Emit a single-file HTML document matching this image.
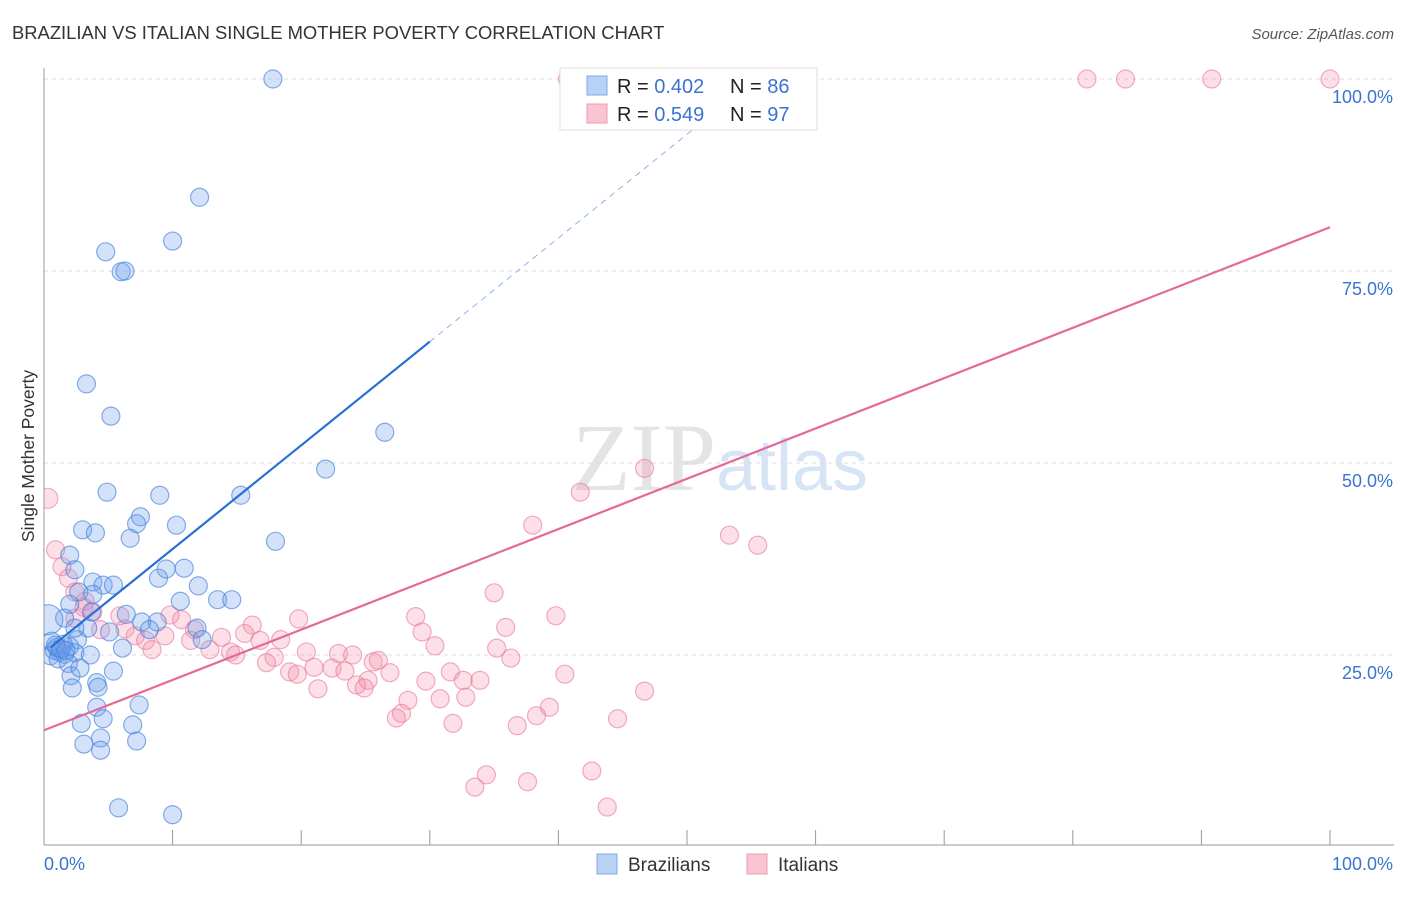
<!DOCTYPE html>
<html><head><meta charset="utf-8"><style>
body{margin:0;background:#fff;font-family:"Liberation Sans",sans-serif}
</style></head><body>
<svg id="chart" width="1406" height="892" xmlns="http://www.w3.org/2000/svg" font-family="Liberation Sans, sans-serif">
<defs><clipPath id="plotclip"><rect x="44" y="60" width="1362" height="785"/></clipPath></defs>
<text x="12" y="39" font-size="18.4" fill="#333">BRAZILIAN VS ITALIAN SINGLE MOTHER POVERTY CORRELATION CHART</text>
<text x="1394" y="39" font-size="15" fill="#555" text-anchor="end" font-style="italic">Source: ZipAtlas.com</text>
<text x="720" y="490" font-size="96" fill="#e4e4e4" text-anchor="middle" font-family="Liberation Serif, serif">ZIP<tspan fill="#d6e4f5" font-family="Liberation Sans, sans-serif" font-size="72">atlas</tspan></text>
<g id="grid"></g>
<g id="axes"></g>
<g id="marks" clip-path="url(#plotclip)"></g>
<g id="lines"></g>
<text transform="translate(34,456) rotate(-90)" font-size="17.5" fill="#333" text-anchor="middle">Single Mother Poverty</text>
<g>
<rect x="560" y="68" width="257" height="62" fill="#fff" stroke="#ddd"/>
<rect x="587" y="76" width="20" height="19" fill="#b8d2f5" stroke="#7ea9e6"/>
<rect x="587" y="104" width="20" height="19" fill="#f9c5d3" stroke="#ee9ab3"/>
<text x="617" y="93" font-size="20" fill="#222">R = <tspan fill="#3b73d1">0.402</tspan></text>
<text x="730" y="93" font-size="20" fill="#222">N = <tspan fill="#3b73d1">86</tspan></text>
<text x="617" y="121" font-size="20" fill="#222">R = <tspan fill="#3b73d1">0.549</tspan></text>
<text x="730" y="121" font-size="20" fill="#222">N = <tspan fill="#3b73d1">97</tspan></text>
</g>
<g>
<rect x="597" y="854" width="20" height="20" fill="#b8d2f5" stroke="#7ea9e6"/>
<text x="628" y="871" font-size="19" fill="#333">Brazilians</text>
<rect x="747" y="854" width="20" height="20" fill="#f9c5d3" stroke="#ee9ab3"/>
<text x="778" y="871" font-size="19" fill="#333">Italians</text>
</g>
</svg>
<script>
const yTicks=[25,50,75,100];
const yTickLabels=["25.0%","50.0%","75.0%","100.0%"];
const xTickLabels=["0.0%","100.0%"];
const blueX=[17.8,12.1,10.0,4.8,6.0,6.3,3.3,5.2,26.5,21.9,4.9,9.0,15.3,7.5,7.2,10.3,3.0,4.0,6.7,18.0,2.0,2.4,9.5,10.9,8.9,3.8,4.6,5.4,12.0,2.7,3.8,13.5,14.6,10.6,2.0,3.7,6.4,1.6,0.3,7.6,8.8,3.4,11.9,5.1,8.2,12.3,2.6,0.8,1.2,1.6,0.5,2.0,1.1,1.5,2.4,1.9,0.6,3.6,6.1,5.4,2.1,4.1,4.2,2.2,4.1,7.4,2.9,4.6,6.9,3.1,4.4,4.4,7.2,5.8,10.0,2.8,2.4,1.0,1.3,0.9,1.7];
const blueY=[100,84.6,78.9,77.5,74.9,75,60.3,56.1,54.0,49.2,46.2,45.8,45.8,43.0,42.1,41.9,41.3,40.9,40.2,39.8,38.0,36.1,36.2,36.3,35.0,34.5,34.1,34.1,34.0,33.2,32.9,32.2,32.2,32.0,31.6,30.6,30.3,29.8,29.6,29.3,29.3,28.5,28.5,28.0,28.3,27.0,27.0,25.6,25.4,25.1,24.9,26.1,24.5,26.4,25.3,23.9,26.8,25.0,25.9,22.9,22.3,21.4,20.8,20.7,18.2,18.5,16.1,16.7,15.9,13.4,14.2,12.6,13.8,5.1,4.2,23.3,28.5,26.0,25.8,26.3,25.6];
const pinkX=[40.7,41.1,49.8,81.1,84.1,90.8,100,0.3,0.9,1.4,1.9,2.4,3.2,3.8,3.1,46.7,41.7,38.0,53.3,55.5,35.0,39.8,28.9,19.8,16.2,35.9,29.4,5.9,6.3,4.4,9.8,10.7,11.7,7.1,7.9,9.4,11.4,13.8,15.6,16.8,18.4,12.9,14.5,8.4,14.9,20.4,22.9,24.0,30.4,35.2,36.3,17.9,17.3,25.6,26.0,21.0,22.4,23.4,19.1,19.7,26.9,25.2,31.6,32.6,33.9,29.7,40.5,24.3,24.9,21.3,30.8,32.8,28.3,46.7,39.3,38.3,27.8,27.4,31.8,44.6,36.8,34.4,33.5,37.6,42.6,43.8,2.4];
const pinkY=[100,100,100,100,100,100,100,45.4,38.7,36.5,35.0,33.2,32.0,30.6,31.2,49.3,46.2,41.9,40.6,39.3,33.1,30.1,30.0,29.7,28.9,28.6,28.0,30.1,28.4,28.3,30.2,29.6,28.3,27.5,26.9,27.5,26.9,27.3,27.8,26.9,27.0,25.7,25.4,25.7,25.0,25.4,25.2,25.0,26.2,25.9,24.6,24.7,24.0,24.1,24.3,23.4,23.3,22.9,22.8,22.5,22.7,21.7,22.8,21.7,21.7,21.6,22.5,21.1,20.7,20.6,19.3,19.5,19.1,20.3,18.2,17.1,17.4,16.8,16.1,16.7,15.8,9.4,7.8,8.5,9.9,5.2,29.8];
const blueFit=[25.3,1.35];
const pinkFit=[15.2,0.655];
const NS="http://www.w3.org/2000/svg";
const X=v=>44+v*12.86, Y=v=>847-v*7.68;
function mk(t,a,p){const e=document.createElementNS(NS,t);for(const k in a)e.setAttribute(k,a[k]);document.getElementById(p).appendChild(e);return e;}
yTicks.forEach((t,i)=>{
 const l=mk('line',{x1:44,x2:1394,y1:Y(t),y2:Y(t),stroke:'#ddd','stroke-dasharray':'4,4'},'grid');
 
 
 const tx=mk('text',{x:1393,y:Y(t)+24,'font-size':18,fill:'#3b73d1','text-anchor':'end'},'axes');
 tx.textContent=yTickLabels[i];
 
 
});
let ax=mk('line',{x1:44,x2:44,y1:68,y2:845,stroke:'#999'},'axes');


ax=mk('line',{x1:44,x2:1394,y1:845,y2:845,stroke:'#999'},'axes');


for(let i=1;i<=10;i++){const t=mk('line',{x1:X(i*10),x2:X(i*10),y1:830,y2:845,stroke:'#999'},'axes');
 
 }
let xl=mk('text',{x:44,y:870,'font-size':18,fill:'#3b73d1'},'axes');xl.textContent=xTickLabels[0];


xl=mk('text',{x:1393,y:870,'font-size':18,fill:'#3b73d1','text-anchor':'end'},'axes');xl.textContent=xTickLabels[1];


pinkX.forEach((x,i)=>{const c=mk('circle',{cx:X(x),cy:Y(pinkY[i]),r:i==7?10:9,fill:'rgba(243,140,170,0.28)',stroke:'rgba(232,120,155,0.6)','stroke-width':1.2},'marks');
 
 });
blueX.forEach((x,i)=>{const c=mk('circle',{cx:X(x),cy:Y(blueY[i]),r:i==38?15:9,fill:'rgba(110,160,235,0.3)',stroke:'rgba(70,130,220,0.65)','stroke-width':1.2},'marks');
 
 });
let ln=mk('line',{x1:X(0.5),y1:Y(blueFit[0]+blueFit[1]*0.5),x2:X(30),y2:Y(blueFit[0]+blueFit[1]*30),stroke:'#2a6fd6','stroke-width':2.2},'lines');


ln=mk('line',{x1:X(30),y1:Y(blueFit[0]+blueFit[1]*30),x2:X(54.5),y2:Y(blueFit[0]+blueFit[1]*54.5),stroke:'#8fb2e6','stroke-width':1,'stroke-dasharray':'6,5'},'lines');


ln=mk('line',{x1:X(0),y1:Y(pinkFit[0]),x2:X(100),y2:Y(pinkFit[0]+pinkFit[1]*100),stroke:'#e5689a','stroke-width':2.2},'lines');


</script>
</body></html>
